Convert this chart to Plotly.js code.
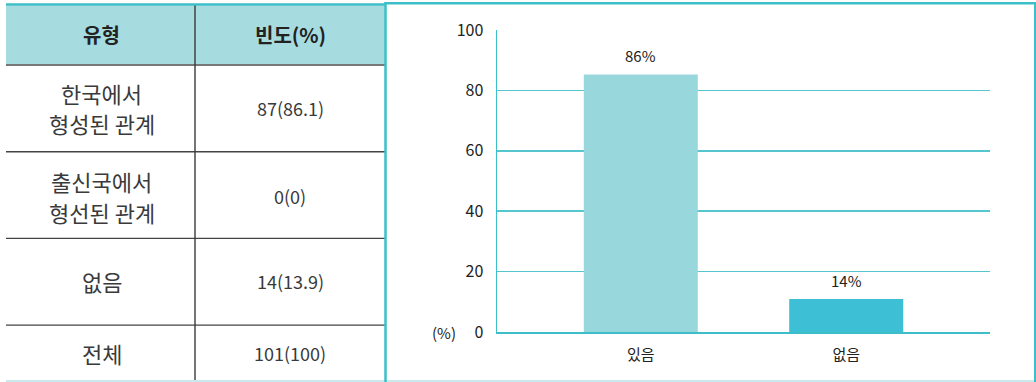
<!DOCTYPE html>
<html>
<head>
<meta charset="utf-8">
<script src="https://cdn.plot.ly/plotly-3.0.1.min.js"></script>
<style>
  html, body { margin: 0; padding: 0; background: #ffffff; }
  #chart { width: 1036px; height: 382px; }
</style>
</head>
<body>
<div id="chart"></div>
<script>
// ---- Table data ----
const tableHeaders = ['유형', '빈도(%)'];
const typeLabels = ['한국에서<br>형성된 관계', '출신국에서<br>형선된 관계', '없음', '전체'];
const freqLabels = ['87(86.1)', '0(0)', '14(13.9)', '101(100)'];

// ---- Bar chart data ----
const barCategories = ['있음', '없음'];
const barValues = [85.3, 10.9];
const barLabels = ['86%', '14%'];
const barColors = ['#98d8dd', '#3dbfd6'];
const yTicks = [0, 20, 40, 60, 80, 100];

// ---- Layout geometry (pixels) ----
const W = 1036, H = 382;
const plotL = 497, plotR = 990, plotT = 30, plotB = 332;
const px = x => (x - plotL) / (plotR - plotL);
const py = y => (plotB - y) / (plotB - plotT);

const FONT = '"Noto Sans CJK KR", "Noto Sans", sans-serif';
const teal = '#3dbfc9';
const gridTeal = '#55c6ce';

const shapes = [];
const annotations = [];

// Table geometry
const tblL = 6, tblR = 385, colDiv = 195;
const headerTop = 5.5, headerBot = 65;
const rowH = 86.7;
const rowTops = typeLabels.map((_, i) => headerBot + i * rowH);

// header background
shapes.push({type: 'rect', xref: 'paper', yref: 'paper',
  x0: px(tblL), x1: px(tblR), y0: py(headerBot), y1: py(headerTop),
  fillcolor: '#a6dce0', line: {width: 0}, layer: 'below'});
// top teal line of table
shapes.push({type: 'line', xref: 'paper', yref: 'paper',
  x0: px(tblL), x1: px(tblR), y0: py(4.5), y1: py(4.5),
  line: {color: teal, width: 2.5}});
// header bottom gray line
shapes.push({type: 'line', xref: 'paper', yref: 'paper',
  x0: px(tblL), x1: px(tblR), y0: py(65), y1: py(65),
  line: {color: '#777777', width: 2.2}});
// row separator lines
rowTops.slice(1).forEach(y => {
  shapes.push({type: 'line', xref: 'paper', yref: 'paper',
    x0: px(tblL), x1: px(tblR), y0: py(y), y1: py(y),
    line: {color: '#444444', width: 1.4}});
});
// column divider
shapes.push({type: 'line', xref: 'paper', yref: 'paper',
  x0: px(colDiv), x1: px(colDiv), y0: py(headerTop), y1: py(H),
  line: {color: '#3a3a3a', width: 1.4}});
// bottom light line
shapes.push({type: 'line', xref: 'paper', yref: 'paper',
  x0: px(tblL), x1: px(W), y0: py(381), y1: py(381),
  line: {color: '#c8eaed', width: 2}});

// chart panel border
shapes.push({type: 'line', xref: 'paper', yref: 'paper',
  x0: px(385.5), x1: px(385.5), y0: py(2), y1: py(H),
  line: {color: teal, width: 2.5}});
shapes.push({type: 'line', xref: 'paper', yref: 'paper',
  x0: px(384.5), x1: px(W), y0: py(3.3), y1: py(3.3),
  line: {color: teal, width: 2.5}});
shapes.push({type: 'line', xref: 'paper', yref: 'paper',
  x0: px(1035), x1: px(1035), y0: py(2), y1: py(H),
  line: {color: teal, width: 2}});

// header text
const colCenters = [(tblL + colDiv) / 2 + 1, (colDiv + tblR) / 2];
tableHeaders.forEach((t, i) => {
  annotations.push({xref: 'paper', yref: 'paper', x: px(colCenters[i]), y: py(35),
    text: '<b>' + t + '</b>', showarrow: false, xanchor: 'center', yanchor: 'middle',
    font: {family: FONT, size: 20, color: '#222222'}});
});

// body text
const rowCenters = [108, 196, 281, 353];
typeLabels.forEach((t, i) => {
  const lines = t.split('<br>');
  const spacing = 31;
  lines.forEach((ln, j) => {
    const yc = rowCenters[i] + (j - (lines.length - 1) / 2) * spacing;
    annotations.push({xref: 'paper', yref: 'paper', x: px(colCenters[0]), y: py(yc),
      text: ln, showarrow: false, xanchor: 'center', yanchor: 'middle',
      font: {family: FONT, size: 22, color: '#3a3a3a'}});
  });
  annotations.push({xref: 'paper', yref: 'paper', x: px(colCenters[1]), y: py(rowCenters[i]),
    text: freqLabels[i], showarrow: false, xanchor: 'center', yanchor: 'middle',
    font: {family: FONT, size: 18, color: '#3a3a3a'}});
});

// bar value labels
barCategories.forEach((c, i) => {
  annotations.push({x: c, y: barValues[i], xref: 'x', yref: 'y',
    text: barLabels[i], showarrow: false, xanchor: 'center', yanchor: 'bottom', yshift: 6,
    font: {family: FONT, size: 15, color: '#222222'}});
});

// (%) label
annotations.push({xref: 'paper', yref: 'paper', x: px(458), y: 0,
  text: '(%)', showarrow: false, xanchor: 'right', yanchor: 'middle',
  font: {family: FONT, size: 15, color: '#222222'}});

const trace = {
  type: 'bar',
  x: barCategories,
  y: barValues,
  marker: {color: barColors, line: {width: 0}},
  width: 0.555,
  hoverinfo: 'none'
};

const layout = {
  width: W, height: H,
  margin: {l: plotL, r: W - plotR, t: plotT, b: H - plotB, pad: 0},
  paper_bgcolor: '#ffffff',
  plot_bgcolor: 'rgba(0,0,0,0)',
  showlegend: false,
  font: {family: FONT, color: '#222222'},
  xaxis: {
    type: 'category',
    range: [-0.7, 1.7],
    showgrid: false,
    zeroline: false,
    showline: true, linecolor: teal, linewidth: 2,
    ticks: '',
    ticklabelstandoff: 8,
    tickfont: {family: FONT, size: 15, color: '#222222'},
    fixedrange: true
  },
  yaxis: {
    range: [0, 100],
    tickvals: yTicks,
    ticktext: yTicks.map(String),
    showgrid: true, gridcolor: gridTeal, gridwidth: 1.5,
    zeroline: false,
    showline: true, linecolor: teal, linewidth: 1.5,
    ticks: '',
    ticklabelstandoff: 9,
    tickfont: {family: FONT, size: 16, color: '#222222'},
    fixedrange: true
  },
  shapes: shapes,
  annotations: annotations
};

Plotly.newPlot('chart', [trace], layout, {displayModeBar: false, staticPlot: true});
</script>
</body>
</html>
